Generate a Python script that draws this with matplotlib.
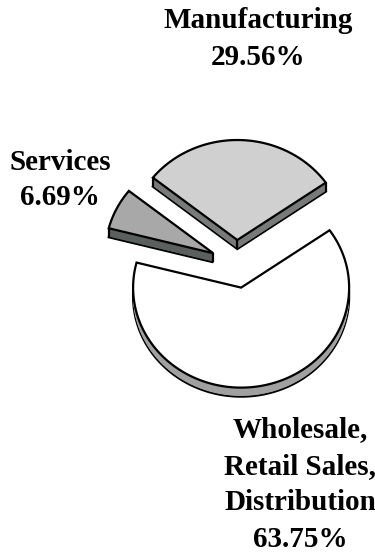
import numpy as np
import matplotlib
matplotlib.use("Agg")
import matplotlib.pyplot as plt
from matplotlib.patches import Polygon

# ---- data ----
categories = ["Manufacturing", "Services", "Wholesale,\nRetail Sales,\nDistribution"]
shares = [29.56, 6.69, 63.75]
top_colors = ["#d0d0d0", "#a8a8a8", "#ffffff"]
side_colors = ["#767a78", "#5a605e", "#a0a0a0"]

# ---- layout (pixel geometry of the figure) ----
W, H = 375, 552
cx_px, cy_px = 236.5, 264.0     # pie centre
rx_px, ry_px = 108.0, 100.0     # horizontal / vertical radius
start_angle = 35.0
explode = 0.24
depth = 0.09                    # extrusion (in radius units)

fig = plt.figure(figsize=(W / 100, H / 100), dpi=100)
ax = fig.add_axes([0, 0, 1, 1])
ax.set_xlim(-cx_px / rx_px, (W - cx_px) / rx_px)
ax.set_ylim(-(H - cy_px) / ry_px, cy_px / ry_px)
ax.axis("off")

def wedge_pts(t1, t2, ox, oy, dy=0.0):
    th = np.radians(np.linspace(t1, t2, 200))
    xs = np.concatenate([[ox], ox + np.cos(th), [ox]])
    ys = np.concatenate([[oy], oy + np.sin(th), [oy]]) + dy
    return np.column_stack([xs, ys])

total = sum(shares)
angle = start_angle
lw = 1.6
for share, tc, sc in zip(shares, top_colors, side_colors):
    span = 360.0 * share / total
    t1, t2 = angle, angle + span
    mid = np.radians((t1 + t2) / 2)
    ox, oy = explode * np.cos(mid), explode * np.sin(mid)
    # bottom copy with outline
    ax.add_patch(Polygon(wedge_pts(t1, t2, ox, oy, -depth), closed=True,
                         facecolor=sc, edgecolor="black", lw=lw, zorder=1))
    # fill side
    for d in np.linspace(-depth + 0.007, 0, 20):
        ax.add_patch(Polygon(wedge_pts(t1, t2, ox, oy, d), closed=True,
                             facecolor=sc, edgecolor="none", zorder=2))
    # vertical corner edges
    corners = [(ox, oy), (ox + np.cos(np.radians(t1)), oy + np.sin(np.radians(t1))),
               (ox + np.cos(np.radians(t2)), oy + np.sin(np.radians(t2)))]
    for (vx, vy) in corners:
        ax.plot([vx, vx], [vy, vy - depth], color="black", lw=lw, zorder=3,
                solid_capstyle="butt")
    # top face
    ax.add_patch(Polygon(wedge_pts(t1, t2, ox, oy), closed=True,
                         facecolor=tc, edgecolor="black", lw=lw, zorder=4,
                         joinstyle="miter"))
    angle = t2

# ---- labels ----
label_pos = [(258, 28, 37), (60, 170, 35), (300, 437, 36.7)]
font = dict(family="Liberation Serif", weight="bold", fontsize=21,
            ha="center", va="baseline", color="black")
for cat, share, (lx, ly, sp) in zip(categories, shares, label_pos):
    lines = cat.split("\n") + [f"{share:.2f}%"]
    for i, line in enumerate(lines):
        fig.text(lx / W, 1 - (ly + i * sp) / H, line, **font)

fig.savefig("out.png", dpi=100)
